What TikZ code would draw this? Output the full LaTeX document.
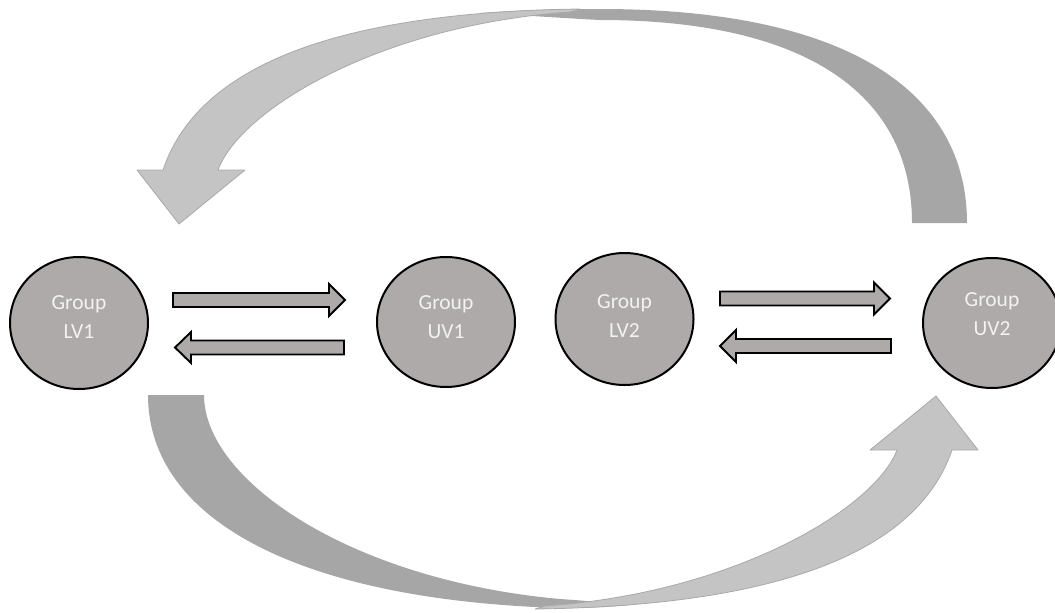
\documentclass[tikz,border=0pt]{standalone}
\usepackage{fontspec}
\setmainfont{Carlito}
\usetikzlibrary{shapes.geometric}
\definecolor{nodegray}{HTML}{AEAAAA}
\definecolor{txtgray}{HTML}{F2F2F2}
\definecolor{backgray}{HTML}{A6A6A6}
\definecolor{frontgray}{HTML}{C4C4C4}
\definecolor{frontedge}{HTML}{A9A9A9}
\begin{document}
\begin{tikzpicture}[x=1pt,y=-1pt,
  grp/.style={ellipse, draw=black, line width=2pt, fill=nodegray, minimum width=138pt, minimum height=132pt, inner sep=0pt},
  grptext/.style={text=txtgray, font=\fontsize{21.5}{29}\selectfont, align=center, inner sep=0pt},
  barrow/.style={draw=black, line width=1.9pt, fill=nodegray, line join=miter},
  backpart/.style={fill=backgray},
  frontpart/.style={fill=frontgray, draw=frontedge, line width=0.8pt, line join=round}]
\useasboundingbox (0,0) rectangle (1055,613);

% top curved arrow (UV2 -> LV1)
\path[backpart] (967,223) .. controls (967,93) and (850,9) .. (600,9)
  .. controls (560,9) and (520,10) .. (480,13)
  .. controls (520,15) and (560,18) .. (600,20)
  .. controls (800,20) and (912,90) .. (912,223) -- cycle;
\path[frontpart] (580,9) .. controls (350,12) and (200,60) .. (163,170)
  -- (137,170) -- (179,224) -- (245,170) -- (218,170)
  .. controls (240,110) and (380,25) .. (570,12) -- cycle;

% bottom curved arrow (LV1 -> UV2)
\path[backpart] (148,395) .. controls (148,520) and (300,600) .. (560,608)
  .. controls (590,608) and (610,607) .. (630,605)
  .. controls (610,603) and (590,601) .. (560,599)
  .. controls (350,580) and (204,480) .. (204,395) -- cycle;
\path[frontpart] (535,609) .. controls (765,606) and (915,558) .. (952,450)
  -- (978,450) -- (936,396) -- (870,450) -- (897,450)
  .. controls (875,508) and (735,593) .. (545,606) -- cycle;

% group circles
\node[grp] (lv1) at (79,323) {};
\node[grp, minimum height=130pt] (uv1) at (446,322) {};
\node[grp] (lv2) at (624.5,319) {};
\node[grp, minimum height=130pt] (uv2) at (992,323) {};
\node[grptext] (lv1t) at (79,317.5) {Group\\LV1};
\node[grptext] (uv1t) at (446,317.5) {Group\\UV1};
\node[grptext] (lv2t) at (624.5,316) {Group\\LV2};
\node[grptext] (uv2t) at (992,314) {Group\\UV2};

% block arrows
\path[barrow] (173,293) -- (329,293) -- (329,284) -- (345,300) -- (329,316) -- (329,307) -- (173,307) -- cycle;
\path[barrow] (344,340.5) -- (191,340.5) -- (191,332) -- (175,347.5) -- (191,363) -- (191,354.5) -- (344,354.5) -- cycle;
\path[barrow] (720,291.5) -- (874,291.5) -- (874,282.5) -- (890,298.5) -- (874,314.5) -- (874,305.5) -- (720,305.5) -- cycle;
\path[barrow] (891,339) -- (736,339) -- (736,330) -- (720,346) -- (736,362) -- (736,353) -- (891,353) -- cycle;
\end{tikzpicture}
\end{document}
